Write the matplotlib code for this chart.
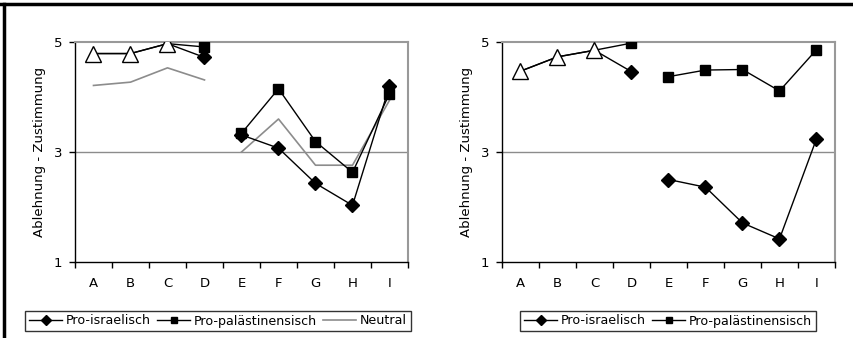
import numpy as np
import matplotlib
matplotlib.use("Agg")
import matplotlib.pyplot as plt
from matplotlib.lines import Line2D

categories = ["A", "B", "C", "D", "E", "F", "G", "H", "I"]

# left chart
left_isr = [4.79, 4.79, 4.97, 4.72, 3.31, 3.07, 2.43, 2.03, 4.20]
left_pal = [4.79, 4.79, 4.97, 4.91, 3.34, 4.15, 3.19, 2.63, 4.06]
left_neu = [4.21, 4.27, 4.53, 4.31, 3.00, 3.60, 2.76, 2.76, 3.94]

# right chart
right_isr = [4.47, 4.73, 4.85, 4.46, 2.50, 2.36, 1.71, 1.42, 3.24]
right_pal = [4.47, 4.73, 4.85, 4.98, 4.37, 4.49, 4.50, 4.11, 4.86]

# items where both groups gave the same answer (open triangles)
shared_idx = [0, 1, 2]

blocks = [(0, 4), (4, 9)]  # lines break between D and E

plt.rcParams["font.family"] = ["DejaVu Sans"]
plt.rcParams["font.size"] = 9

fig = plt.figure(figsize=(8.54, 3.38), dpi=100)

def draw_panel(ax, isr, pal, neu=None):
    x = np.arange(len(categories))
    for a, b in blocks:
        own = [i - a for i in range(a, b) if i not in shared_idx]
        if neu is not None:
            ax.plot(x[a:b], neu[a:b], color="#8c8c8c", lw=1.2, zorder=2)
        ax.plot(x[a:b], isr[a:b], color="black", lw=1, marker="D", ms=7,
                markevery=own, zorder=3)
        ax.plot(x[a:b], pal[a:b], color="black", lw=1, marker="s", ms=6.5,
                markevery=own, zorder=3)
    ax.plot(x[shared_idx], [isr[i] for i in shared_idx], ls="none", marker="^",
            ms=11, mfc="white", mec="black", mew=1, zorder=4)

    ax.set_xlim(-0.5, len(categories) - 0.5)
    ax.set_ylim(1, 5)
    ax.set_yticks([1, 3, 5])
    ax.axhline(3, color="#8c8c8c", lw=1, zorder=1)
    ax.set_xticks(np.arange(len(categories) + 1) - 0.5)
    ax.set_xticklabels([])
    ax.set_xticks(np.arange(len(categories)), minor=True)
    ax.set_xticklabels(categories, minor=True)
    ax.tick_params(axis="x", which="major", length=4, direction="out", width=1)
    ax.tick_params(axis="x", which="minor", length=0, pad=11, labelsize=9.5)
    ax.tick_params(axis="y", length=4, width=1, labelsize=9.5, pad=5)
    for s in ["top", "right"]:
        ax.spines[s].set_color("#999999")
        ax.spines[s].set_linewidth(1.5)
    for s in ["left", "bottom"]:
        ax.spines[s].set_color("black")
        ax.spines[s].set_linewidth(1)
    ax.set_ylabel("Ablehnung - Zustimmung", fontsize=9.5, labelpad=6)

ax1 = fig.add_axes([75 / 854, 1 - 262 / 338, 333 / 854, 220 / 338])
ax2 = fig.add_axes([502 / 854, 1 - 262 / 338, 333 / 854, 220 / 338])
draw_panel(ax1, left_isr, left_pal, left_neu)
draw_panel(ax2, right_isr, right_pal)

h_isr = Line2D([], [], color="black", lw=1, marker="D", ms=5)
h_pal = Line2D([], [], color="black", lw=1, marker="s", ms=5)
h_neu = Line2D([], [], color="#8c8c8c", lw=1.2)

leg_kw = dict(loc="center", frameon=True, fancybox=False, fontsize=9.1,
              handlelength=2.6, handletextpad=0.3, columnspacing=0.5,
              borderpad=0.3, edgecolor="black")
l1 = fig.legend([h_isr, h_pal, h_neu], ["Pro-israelisch", "Pro-palästinensisch", "Neutral"],
                ncol=3, bbox_to_anchor=(218 / 854, 1 - 321 / 338), **leg_kw)
l2 = fig.legend([h_isr, h_pal], ["Pro-israelisch", "Pro-palästinensisch"],
                ncol=2, bbox_to_anchor=(668 / 854, 1 - 321 / 338), **leg_kw)
for l in (l1, l2):
    l.get_frame().set_linewidth(1)

# outer frame lines (top and left)
fig.add_artist(Line2D([0, 1], [1 - 4 / 338, 1 - 4 / 338], color="black", lw=2.5,
                      transform=fig.transFigure))
fig.add_artist(Line2D([4 / 854, 4 / 854], [0, 1 - 4 / 338], color="black", lw=2.5,
                      transform=fig.transFigure))

fig.savefig("out.png", dpi=100)
